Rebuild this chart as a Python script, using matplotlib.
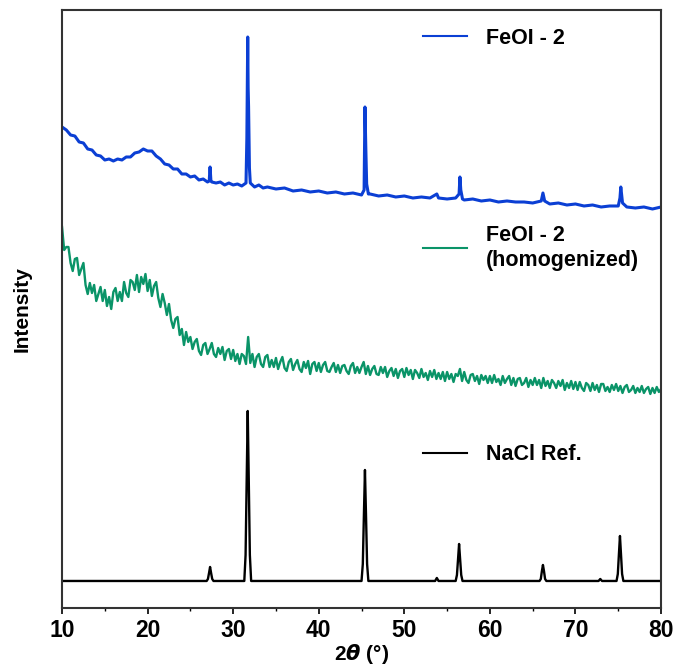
import numpy as np
import matplotlib
matplotlib.use('Agg')
import matplotlib.pyplot as plt
from matplotlib.ticker import MultipleLocator

plt.rcParams['font.family'] = ['Liberation Sans', 'DejaVu Sans']
plt.rcParams['font.weight'] = 'bold'
plt.rcParams['mathtext.fontset'] = 'custom'
plt.rcParams['mathtext.rm'] = 'Liberation Sans Narrow:bold'
plt.rcParams['mathtext.it'] = 'Liberation Sans Narrow:italic'

# ---------------- data (intensity, a.u., traces already offset) ----------------

# FeOI - 2
blue_x = [10.0, 10.5, 11.0, 11.5, 12.0, 12.5, 13.0, 13.5, 14.0, 14.5,
          15.0, 15.5, 16.0, 16.5, 17.0, 17.5, 18.0, 18.5, 19.0, 19.5,
          20.0, 20.5, 21.0, 21.5, 22.0, 22.5, 23.0, 23.5, 24.0, 24.5,
          25.0, 25.5, 26.0, 26.5, 27.0, 27.2, 27.3, 27.4, 27.5, 28.0,
          28.5, 29.0, 29.5, 30.0, 30.5, 31.0, 31.5, 31.6, 31.7, 31.75,
          31.8, 31.9, 32.0, 32.5, 33.0, 33.5, 34.0, 35.0, 36.0, 37.0,
          38.0, 39.0, 40.0, 41.0, 42.0, 43.0, 44.0, 45.0, 45.3, 45.4,
          45.5, 45.6, 45.8, 46.0, 47.0, 48.0, 49.0, 50.0, 51.0, 52.0,
          53.0, 53.8, 54.0, 55.0, 56.0, 56.4, 56.5, 56.6, 56.8, 57.0,
          58.0, 59.0, 60.0, 61.0, 62.0, 63.0, 64.0, 65.0, 66.0, 66.2,
          66.4, 67.0, 68.0, 69.0, 70.0, 71.0, 72.0, 73.0, 74.0, 75.0,
          75.2, 75.3, 75.4, 75.5, 76.0, 77.0, 78.0, 79.0, 80.0]
blue_y = [481, 478, 473, 472, 466, 465, 459, 458, 453, 452,
          448, 449, 447, 449, 448, 451, 451, 455, 456, 459,
          457, 457, 452, 449, 444, 443, 439, 439, 434, 434,
          431, 432, 428, 429, 426, 427, 441, 427, 426, 425,
          426, 423, 425, 423, 424, 422, 425, 470, 571, 520,
          501, 440, 425, 421, 423, 420, 421, 419, 420, 417,
          418, 416, 417, 415, 416, 414, 415, 413, 418, 501,
          460, 424, 414, 414, 412, 413, 411, 412, 410, 411,
          410, 414, 410, 409, 410, 414, 431, 418, 409, 408,
          409, 407, 408, 406, 407, 406, 406, 405, 407, 415,
          407, 404, 405, 403, 404, 402, 403, 401, 402, 402,
          410, 421, 413, 405, 401, 400, 401, 399, 401]

# FeOI - 2 (homogenized), step 0.25 deg from 10 to 80
green_start, green_step = 10.0, 0.25
green_y = [
    381, 358, 361, 361, 345, 337, 349, 350, 333, 339, 345, 323, 314, 325, 315, 323, 307, 314, 321, 307,
    318, 302, 311, 299, 316, 320, 307, 316, 307, 326, 315, 311, 328, 326, 318, 333, 316, 331, 324, 334,
    317, 328, 312, 322, 326, 310, 301, 314, 305, 293, 304, 288, 280, 289, 291, 273, 279, 263, 276, 266,
    271, 259, 266, 269, 257, 253, 263, 265, 254, 259, 265, 254, 251, 260, 254, 261, 248, 257, 259, 249,
    258, 247, 254, 244, 254, 252, 244, 271, 245, 254, 241, 251, 254, 244, 241, 251, 253, 241, 248, 241,
    250, 239, 246, 251, 240, 237, 246, 249, 238, 244, 248, 239, 236, 246, 240, 247, 234, 244, 246, 237,
    245, 236, 243, 246, 237, 236, 241, 245, 236, 243, 235, 242, 243, 237, 234, 242, 245, 235, 241, 235,
    241, 246, 234, 242, 233, 239, 242, 234, 233, 241, 235, 241, 231, 237, 240, 232, 239, 230, 237, 239,
    231, 240, 233, 238, 229, 238, 235, 230, 239, 231, 235, 228, 237, 231, 238, 229, 235, 229, 236, 227,
    236, 229, 234, 226, 234, 232, 239, 227, 236, 228, 225, 233, 234, 227, 232, 224, 233, 228, 232, 225,
    232, 225, 233, 226, 229, 223, 232, 225, 229, 232, 223, 230, 222, 229, 230, 223, 225, 230, 221, 228,
    223, 230, 223, 228, 220, 230, 222, 227, 220, 228, 225, 220, 227, 222, 228, 218, 225, 220, 227, 219,
    226, 218, 226, 220, 217, 225, 223, 217, 225, 218, 223, 216, 224, 224, 217, 221, 216, 223, 218, 224,
    217, 222, 215, 221, 223, 216, 218, 222, 215, 220, 216, 222, 215, 219, 221, 214, 220, 215, 221, 216,
    219]
green_x = green_start + green_step * np.arange(len(green_y))

# NaCl reference pattern
nacl_x = [10.0,
          26.9, 27.05, 27.18, 27.3, 27.42, 27.55, 27.7,
          31.3, 31.45, 31.58, 31.7, 31.82, 31.95, 32.1,
          45.0, 45.15, 45.28, 45.4, 45.52, 45.65, 45.8,
          53.6, 53.8, 54.0,
          56.0, 56.15, 56.28, 56.4, 56.52, 56.65, 56.8,
          65.8, 65.95, 66.08, 66.2, 66.32, 66.45, 66.6,
          72.7, 72.9, 73.1,
          74.8, 74.95, 75.08, 75.2, 75.32, 75.45, 75.6,
          80.0]
nacl_y = [27,
          27, 29, 35, 41, 35, 29, 27,
          27, 53, 129, 197, 129, 53, 27,
          27, 44, 94, 138, 94, 44, 27,
          27, 30, 27,
          27, 33, 49, 64, 49, 33, 27,
          27, 29, 37, 43, 37, 29, 27,
          27, 29, 27,
          27, 34, 54, 72, 54, 34, 27,
          27]

# ---------------- plot ----------------
fig = plt.figure(figsize=(6.75, 6.67), dpi=100)
ax = fig.add_axes([0.0919, 0.0885, 0.8874, 0.8965])

l_blue, = ax.plot(blue_x, blue_y, color='#0b3fd4', lw=2.2)
l_green, = ax.plot(green_x, green_y, color='#0a9468', lw=1.7)
l_black, = ax.plot(nacl_x, nacl_y, color='black', lw=1.7)

ax.set_xlim(10, 80)
ax.set_ylim(0, 598)
ax.set_yticks([])
ax.xaxis.set_major_locator(MultipleLocator(10))
ax.xaxis.set_minor_locator(MultipleLocator(5))
ax.tick_params(axis='x', which='major', direction='out', length=4, width=1.2,
               labelsize=16.5, pad=4, top=False)
ax.tick_params(axis='x', which='minor', direction='out', length=2.5, width=1.0, top=False)
for lab in ax.get_xticklabels():
    lab.set_fontweight('bold')
    lab.set_family(['Liberation Sans Narrow', 'Liberation Sans'])
for s in ax.spines.values():
    s.set_linewidth(1.5)
    s.set_color('#333333')

ax.set_xlabel(r'2$\theta$ (°)', fontsize=15, fontweight='bold', labelpad=0,
              family=['Liberation Sans Narrow', 'Liberation Sans'])
ax.set_ylabel('Intensity', fontsize=15, fontweight='bold', labelpad=22)

# legend entries placed next to each trace
leg_kw = dict(frameon=False, loc='center left', fontsize=15.5, handlelength=2.05,
              handletextpad=0.85, borderpad=0, borderaxespad=0)
leg1 = ax.legend([l_blue], ['FeOI - 2'], bbox_to_anchor=(0.603, 0.953), **leg_kw)
ax.add_artist(leg1)
leg2 = ax.legend([l_green], ['FeOI - 2\n(homogenized)'], bbox_to_anchor=(0.603, 0.602), **leg_kw)
ax.add_artist(leg2)
leg3 = ax.legend([l_black], ['NaCl Ref.'], bbox_to_anchor=(0.603, 0.256), **leg_kw)
for lg in (leg1, leg2, leg3):
    for t in lg.get_texts():
        t.set_fontweight('bold')
    for h in lg.legend_handles:
        h.set_linewidth(1.5)

fig.savefig('out.png', dpi=100)
